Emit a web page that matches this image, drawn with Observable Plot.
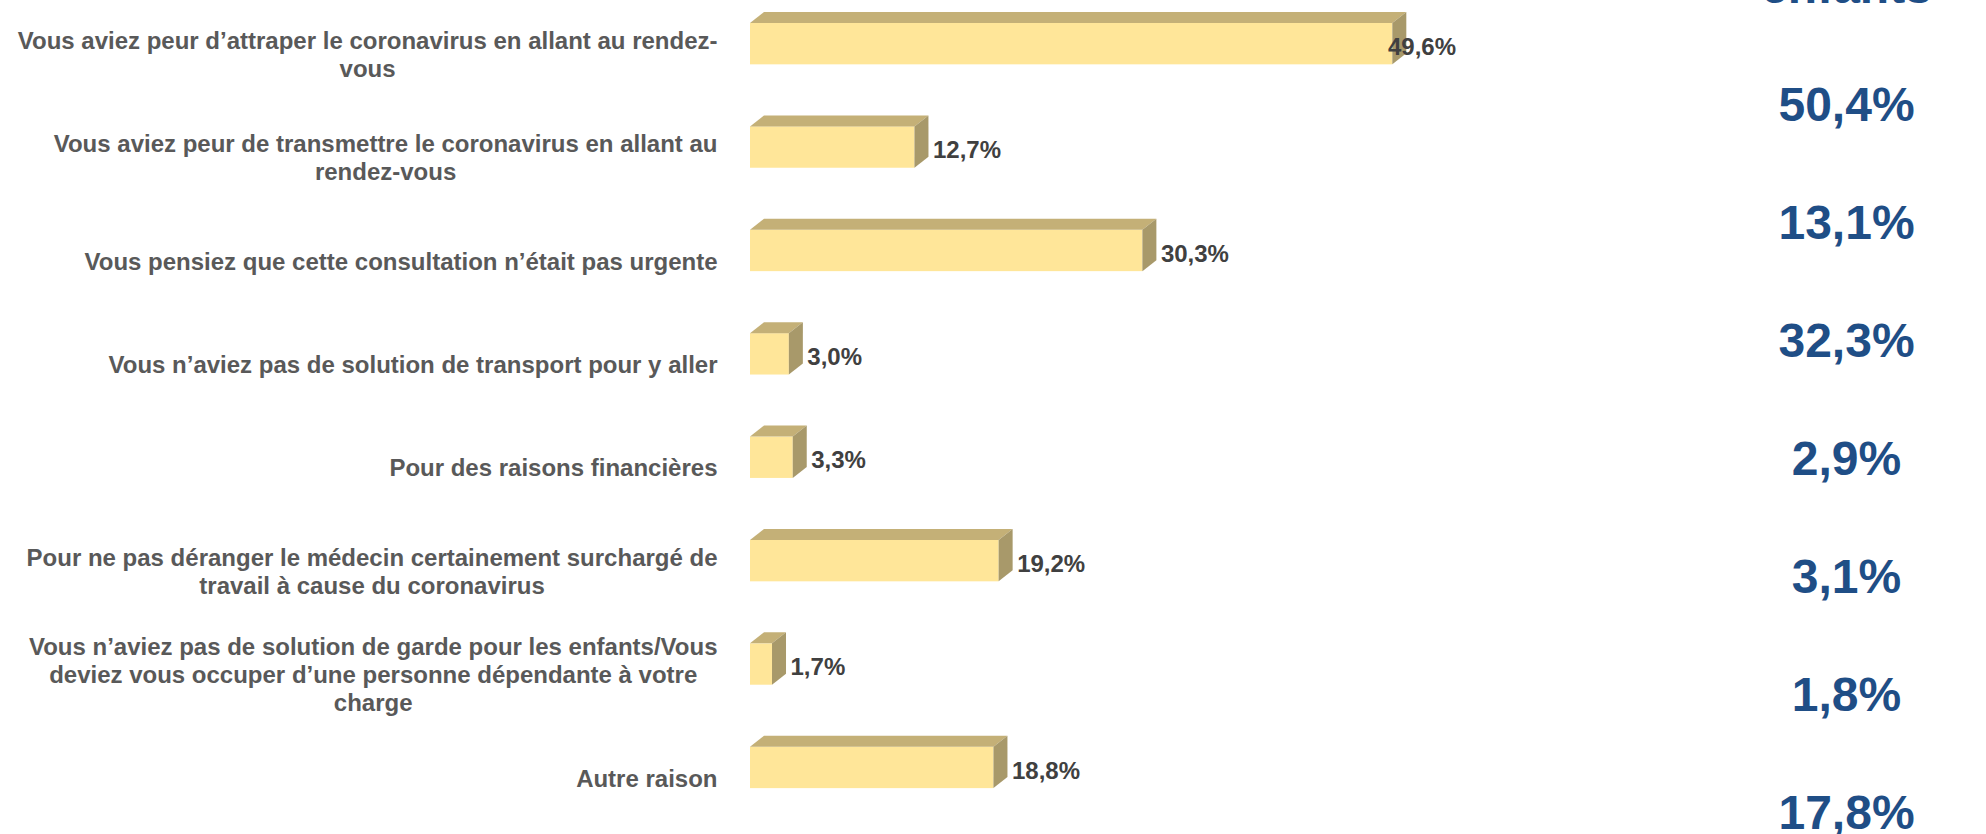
<!DOCTYPE html>
<html><head><meta charset="utf-8">
<script src="https://cdn.jsdelivr.net/npm/d3@7"></script>
<script src="https://cdn.jsdelivr.net/npm/@observablehq/plot@0.6"></script>
<style>
html,body{margin:0;padding:0;background:#fff;}
#wrap{display:flex;width:1986px;height:834px;overflow:hidden;background:#fff;}
</style></head><body><div id="wrap"></div>
<script>
// ---- data ----
const categories = [
  "Vous aviez peur d’attraper le coronavirus en allant au rendez-\nvous",
  "Vous aviez peur de transmettre le coronavirus en allant au\nrendez-vous",
  "Vous pensiez que cette consultation n’était pas urgente",
  "Vous n’aviez pas de solution de transport pour y aller",
  "Pour des raisons financières",
  "Pour ne pas déranger le médecin certainement surchargé de\ntravail à cause du coronavirus",
  "Vous n’aviez pas de solution de garde pour les enfants/Vous\ndeviez vous occuper d’une personne dépendante à votre\ncharge",
  "Autre raison"
];
const values = [49.6, 12.7, 30.3, 3.0, 3.3, 19.2, 1.7, 18.8];
const sideHeader = "enfants";
const sideValues = [50.4, 13.1, 32.3, 2.9, 3.1, 1.8, 17.8];

// ---- layout / style ----
const FONT = '"Liberation Sans", Arial, Helvetica, sans-serif';
const DEPTH_X = 14, DEPTH_Y = 11;
const LABEL_LIMIT = 1456;
const fmt = v => v.toFixed(1).replace(".", ",") + "%";
const rows = categories.map((c, i) => ({category: c, value: values[i]}));

const wrap = document.getElementById("wrap");

const main = Plot.plot({
  width: 1700, height: 834,
  marginLeft: 750, marginRight: 302.5, marginTop: 2.3, marginBottom: 25.2,
  style: {fontFamily: FONT, background: "white", overflow: "hidden"},
  x: {domain: [0, 50], axis: null},
  y: {domain: categories, axis: null, paddingInner: 0.6, paddingOuter: 0.2, round: false},
  marks: [
    Plot.barX(rows, {x: "value", y: "category", fill: "#FFE699"}),
    Plot.text(rows, {y: "category", text: "category", frameAnchor: "left", textAnchor: "middle",
      dx: -33, dy: 9.5, fontSize: 24, fontWeight: "bold", fill: "#595959", lineHeight: 1.18}),
    Plot.text(rows, {x: "value", y: "category", text: d => fmt(d.value), textAnchor: "start",
      dx: 18, dy: 3, fontSize: 24, fontWeight: "bold", fill: "#404040"})
  ]
});
wrap.appendChild(main);

const sideItems = [sideHeader, ...sideValues.map(fmt)];
const side = Plot.plot({
  width: 286, height: 834, marginLeft: 6, marginRight: 0, marginTop: 0, marginBottom: 0,
  style: {fontFamily: FONT, background: "white", overflow: "hidden"},
  x: {axis: null},
  y: {type: "point", domain: sideItems, range: [-13, 813.6], padding: 0, axis: null},
  marks: [
    Plot.text(sideItems, {y: d => d, text: d => d, frameAnchor: "middle",
      fontSize: 48, fontWeight: "bold", fill: "#1f4e86"})
  ]
});
wrap.appendChild(side);

// ---- 3D faces derived from the rendered bars ----
const svg = d3.select(main);
const barG = svg.select('g[aria-label="bar"]');
const faces = svg.insert("g", 'g[aria-label="bar"] + *').attr("aria-label", "bar-depth");
barG.selectAll("rect").each(function() {
  const r = d3.select(this);
  const x0 = +r.attr("x"), y0 = +r.attr("y");
  const x1 = x0 + +r.attr("width"), y1 = y0 + +r.attr("height");
  faces.append("polygon")
    .attr("points", [[x0, y0], [x0 + DEPTH_X, y0 - DEPTH_Y], [x1 + DEPTH_X, y0 - DEPTH_Y], [x1, y0]].join(" "))
    .attr("fill", "#C4B077");
  faces.append("polygon")
    .attr("points", [[x1, y0], [x1 + DEPTH_X, y0 - DEPTH_Y], [x1 + DEPTH_X, y1 - DEPTH_Y], [x1, y1]].join(" "))
    .attr("fill", "#A8996A");
});

// ---- right-align category label blocks, lines centred within each block ----
const textGroups = main.querySelectorAll('g[aria-label="text"]');
textGroups[0].querySelectorAll("text").forEach(el => {
  const w = el.getBBox().width;
  el.setAttribute("transform", (el.getAttribute("transform") || "") + ` translate(${-w / 2},0)`);
});
// ---- keep value labels inside the plot area ----
const svgLeft = main.getBoundingClientRect().left;
textGroups[1].querySelectorAll("text").forEach(el => {
  const right = el.getBoundingClientRect().right - svgLeft;
  if (right > LABEL_LIMIT) {
    el.setAttribute("transform", (el.getAttribute("transform") || "") + ` translate(${LABEL_LIMIT - right},0)`);
  }
});
</script>
</body></html>
